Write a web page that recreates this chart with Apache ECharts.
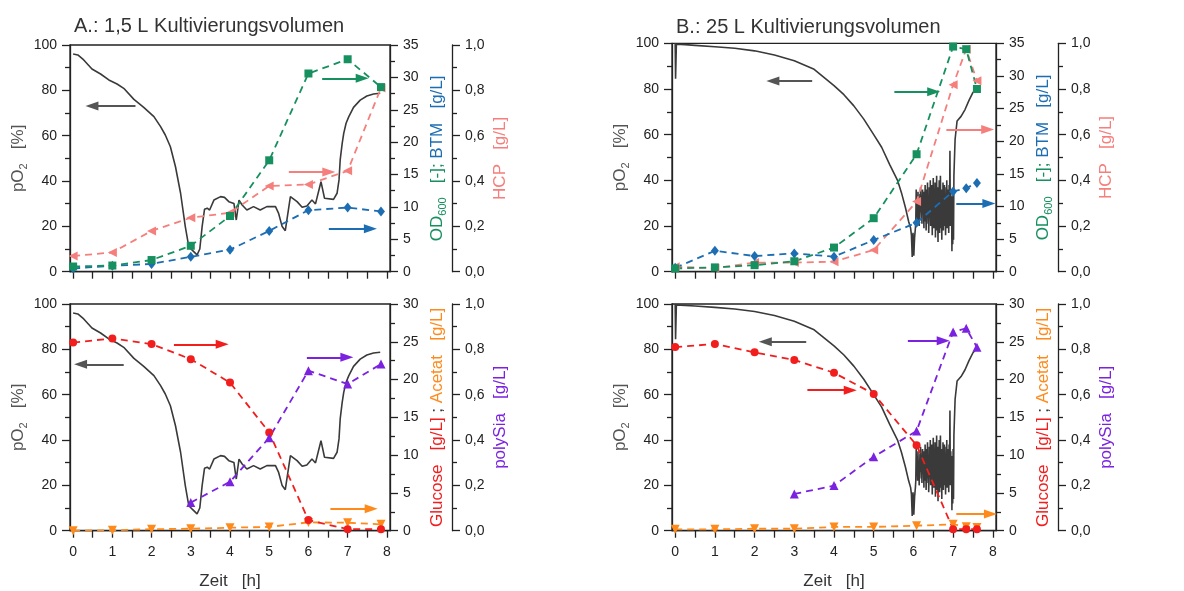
<!DOCTYPE html>
<html>
<head>
<meta charset="utf-8">
<script src="https://cdn.jsdelivr.net/npm/echarts@6/dist/echarts.min.js"></script>
<style>
  html, body { margin: 0; padding: 0; background: #fff; }
  #chart { width: 1184px; height: 591px; }
</style>
</head>
<body>
<div id="chart"></div>
<script>
// ---- Panel A: 1,5 L cultivation ----
const sampleTimeA = [0, 1, 2, 3, 4, 5, 6, 7, 7.85];
const od600A   = [0.8, 0.95, 1.8, 4.0, 8.6, 17.2, 30.6, 32.8, 28.5];
const btmA     = [0.5, 0.9, 1.2, 2.3, 3.4, 6.3, 9.5, 9.9, 9.3];
const hcpA     = [0.069, 0.085, 0.18, 0.238, 0.26, 0.378, 0.385, 0.445, 0.81];
const glucoseA = [24.9, 25.45, 24.7, 22.7, 19.6, 13.0, 1.4, 0.2, 0.2];
const acetatA  = [0, 0.05, 0.2, 0.26, 0.4, 0.5, 1.1, 1.06, 0.84];
const polySiaTimeA = [3, 4, 5, 6, 7, 7.85];
const polySiaA     = [0.124, 0.216, 0.41, 0.706, 0.647, 0.735];

const pO2TimeA = [0, 0.12, 0.27, 0.48, 0.7, 0.91, 1.12, 1.29, 1.55, 1.8, 2.06, 2.23, 2.35, 2.48, 2.61,
  2.74, 2.86, 2.95, 3.03, 3.08, 3.16, 3.23, 3.29, 3.35, 3.42, 3.48, 3.59, 3.76, 3.86, 3.97, 4.1, 4.16,
  4.23, 4.31, 4.43, 4.6, 4.77, 4.94, 5.16, 5.24, 5.33, 5.41, 5.54, 5.71, 5.84, 5.96, 6.09, 6.18, 6.32,
  6.41, 6.64, 6.73, 6.78, 6.81, 6.86, 6.9, 6.96, 7.03, 7.15, 7.32, 7.49, 7.66, 7.83];
const pO2A = [96, 95.6, 93.4, 89.4, 87.2, 84.6, 82.8, 80.9, 76, 72.5, 68.4, 64, 60.3, 55.1, 46.3,
  34.6, 19.9, 11, 9.6, 10.3, 7.4, 10, 20, 27.5, 28, 27.2, 31.6, 33.1, 32.8, 30.9, 30.1, 22.8,
  31.6, 29.4, 27.2, 28.7, 27.2, 28.7, 28.7, 25.7, 19.9, 18.1, 33.1, 30.9, 28.4, 29, 31.6, 29.9, 39.7,
  32.4, 31.9, 34.6, 40.5, 49.3, 56.5, 61, 65.5, 68.4, 72.5, 75.7, 77.5, 78.4, 78.7];

// ---- Panel B: 25 L cultivation ----
const sampleTimeB = [0, 1, 2, 3, 4, 5, 6.08, 7, 7.33, 7.6];
const od600B   = [0.5, 0.66, 1.0, 1.6, 3.7, 8.2, 18.0, 34.5, 34.1, 28.0];
const btmB     = [0.6, 3.2, 2.4, 2.8, 2.3, 4.85, 7.5, 12.3, 12.8, 13.6];
const hcpB     = [0.022, 0.015, 0.04, 0.04, 0.044, 0.095, 0.307, 0.818, 0.974, 0.836];
const glucoseB = [24.3, 24.7, 23.6, 22.6, 20.9, 18.1, 11.3, 0.2, 0.2, 0.2];
const acetatB  = [0.18, 0.18, 0.26, 0.26, 0.5, 0.5, 0.66, 0.84, 0.53, 0.44];
const polySiaTimeB = [3, 4, 5, 6.08, 7, 7.33, 7.6];
const polySiaB     = [0.162, 0.199, 0.326, 0.44, 0.877, 0.893, 0.809];

const pO2TimeB = [0, 0.01, 0.03, 0.25, 0.5, 1, 1.5, 2, 2.5, 3, 3.5, 4, 4.25, 4.5, 4.75, 5, 5.2, 5.4,
  5.6, 5.7, 5.8, 5.88, 5.93, 5.95, 5.97, 5.99, 6.01, 6.03, 6.05, 6.06,
  6.07, 6.075, 6.085, 6.09, 6.10, 6.105, 6.115, 6.12, 6.13, 6.14, 6.145, 6.155, 6.165, 6.17, 6.18, 6.19,
  6.20, 6.205, 6.215, 6.22, 6.23, 6.24, 6.245, 6.255, 6.265, 6.27, 6.28, 6.29, 6.295, 6.305, 6.31, 6.32,
  6.33, 6.335, 6.345, 6.355, 6.36, 6.37, 6.38, 6.385, 6.395, 6.40, 6.41, 6.42, 6.425, 6.435, 6.44, 6.45,
  6.46, 6.465, 6.475, 6.48, 6.49, 6.50, 6.505, 6.515, 6.52, 6.53, 6.54, 6.545, 6.555, 6.56, 6.57, 6.58,
  6.585, 6.595, 6.60, 6.61, 6.62, 6.625, 6.635, 6.64, 6.65, 6.66, 6.665, 6.675, 6.68, 6.69, 6.70, 6.705,
  6.715, 6.72, 6.73, 6.74, 6.745, 6.755, 6.76, 6.77, 6.78, 6.785, 6.795, 6.80, 6.81, 6.82, 6.825, 6.835,
  6.84, 6.85, 6.86, 6.865, 6.875, 6.88, 6.89, 6.90, 6.91, 6.92, 6.93, 6.94, 6.95, 6.96, 6.97, 6.98, 6.99,
  7.00, 7.01, 7.02, 7.05, 7.1, 7.2, 7.3, 7.4, 7.5, 7.6];
const pO2B = [100, 84.5, 99.6, 99.4, 99.1, 98.5, 97.8, 96.7, 94.9, 92.4, 88.6, 81.5, 77.5, 72.6, 66.8,
  60, 54.5, 47, 40, 34.5, 28, 22, 19, 16, 6.5, 17, 7, 15, 19, 22,
  36, 28, 24, 33, 29, 22, 35, 30, 25, 31, 20, 27, 34, 26, 37, 31,
  23, 32, 21, 28, 36, 27, 33, 29, 19, 35, 24, 30, 38, 22, 31, 18,
  27, 36, 25, 39, 29, 21, 33, 17, 26, 37, 30, 26, 40, 20, 34, 23,
  38, 29, 16, 35, 27, 41, 33, 19, 33, 22, 28, 39, 15, 36, 24, 31,
  42, 18, 31, 25, 13, 37, 21, 30, 40, 17, 34, 25, 42, 28, 19, 36,
  14, 33, 23, 29, 39, 18, 35, 26, 38, 31, 20, 34, 16, 28, 37, 24,
  40, 19, 32, 27, 22, 36, 17, 38, 25, 53, 20, 35, 24, 33, 9, 28, 12, 36, 14, 42,
  58, 66, 68, 71, 75, 78.5, 80.5, 82, 83, 83.4];

// ---- axis ticks ----
const hourTicks = [0, 0.5, 1, 1.5, 2, 2.5, 3, 3.5, 4, 4.5, 5, 5.5, 6, 6.5, 7, 7.5, 8];
const hourLabels = [0, 1, 2, 3, 4, 5, 6, 7, 8];

// ---- colours ----
const C = {
  pO2: '#3a3a3a', arrowGrey: '#555555', od: '#17905f', btm: '#1d6db3', hcp: '#f57f7c',
  glc: '#f21d1d', ace: '#ff8a1c', psa: '#7a22e0', axis: '#222222', text: '#222222'
};
const FONT = '"Liberation Sans", Arial, Helvetica, sans-serif';

function pairs(xs, ys) { return xs.map((x, i) => [x, ys[i]]); }
const comma = v => v.toFixed(1).replace('.', ',');

const grids = [
  { left: 70, top: 45, width: 320, height: 226.7 },
  { left: 672, top: 43.3, width: 324, height: 228.4 },
  { left: 70, top: 304, width: 320, height: 226.7 },
  { left: 672, top: 304, width: 324, height: 226.7 }
].map(g => Object.assign(g, { show: true, borderColor: C.axis, borderWidth: 1.3, backgroundColor: 'transparent', containLabel: false }));

function xAx(gi, withLabels) {
  return {
    type: 'value', gridIndex: gi, min: -0.08, max: 8.08,
    axisLine: { onZero: false, lineStyle: { color: C.axis, width: 1.3 } },
    axisTick: { customValues: hourTicks, length: 7, lineStyle: { color: C.axis, width: 1.3 } },
    axisLabel: { show: withLabels, customValues: hourLabels, margin: 14, fontSize: 14, color: C.text, fontFamily: FONT },
    splitLine: { show: false },
    name: withLabels ? 'Zeit   [h]' : '', nameLocation: 'middle', nameGap: 42,
    nameTextStyle: { fontSize: 17, color: '#333', fontFamily: FONT }
  };
}

function yAx(gi, pos, offset, max, interval, name, rich, nameGap, fmt) {
  return {
    type: 'value', gridIndex: gi, position: pos, offset: offset, min: 0, max: max, interval: interval,
    axisLine: { show: true, onZero: false, lineStyle: { color: C.axis, width: 1.3 } },
    axisTick: { show: true, length: 8, lineStyle: { color: C.axis, width: 1.3 } },
    minorTick: { show: true, splitNumber: 2, length: 5, lineStyle: { color: C.axis, width: 1.3 } },
    axisLabel: { margin: 13, fontSize: 14, color: C.text, fontFamily: FONT, formatter: fmt },
    splitLine: { show: false },
    name: name, nameLocation: 'middle', nameRotate: 90, nameGap: nameGap,
    nameTextStyle: { fontFamily: FONT, fontSize: 17, rich: rich }
  };
}

function sub(color) { return { fontSize: 11, color: color, fontFamily: FONT, lineHeight: 22, verticalAlign: 'bottom' }; }
function txt(color) { return { fontSize: 17, color: color, fontFamily: FONT, lineHeight: 22 }; }

const pO2Name = '{a|pO}{s|2}{a|   [%]}';
const pO2Rich = { a: txt('#555'), s: sub('#555') };
const intFmt = v => String(Math.round(v));

const yAxes = [];
[0, 1, 2, 3].forEach(gi => {
  const top = gi < 2;
  yAxes.push(yAx(gi, 'left', 0, 100, 20, pO2Name, pO2Rich, 40, intFmt));
  if (top) {
    yAxes.push(yAx(gi, 'right', 0, 35, 5, '{g|OD}{gs|600}{g|   [-]; }{b|BTM   [g/L]}',
      { g: txt(C.od), gs: sub(C.od), b: txt(C.btm) }, 36, intFmt));
    yAxes.push(yAx(gi, 'right', 62, 1, 0.2, '{p|HCP   [g/L]}', { p: txt(C.hcp) }, 37, comma));
  } else {
    yAxes.push(yAx(gi, 'right', 0, 30, 5, '{r|Glucose   [g/L]}{k| ; }{o|Acetat   [g/L]}',
      { r: txt(C.glc), k: txt('#333'), o: txt(C.ace) }, 36, intFmt));
    yAxes.push(yAx(gi, 'right', 62, 1, 0.2, '{v|polySia   [g/L]}', { v: txt(C.psa) }, 37, comma));
  }
});

// annotation arrows, in pO2 axis coordinates of each panel
function arrow(x1, x2, y, color) {
  return [
    { coord: [x1, y], symbol: 'none', lineStyle: { color: color }, itemStyle: { color: color } },
    { coord: [x2, y], symbol: 'triangle', symbolSize: [9, 13], itemStyle: { color: color } }
  ];
}
const arrowsByGrid = [
  [arrow(1.59, 0.48, 73.1, C.arrowGrey), arrow(6.35, 7.37, 85.3, C.od), arrow(5.5, 6.52, 44, C.hcp), arrow(6.52, 7.58, 19, C.btm)],
  [arrow(3.45, 2.46, 83.5, C.arrowGrey), arrow(5.52, 6.51, 78.8, C.od), arrow(6.83, 7.87, 62.3, C.hcp), arrow(7.08, 7.9, 29.9, C.btm)],
  [arrow(1.29, 0.19, 73.4, C.arrowGrey), arrow(2.57, 3.8, 82.2, C.glc), arrow(5.96, 6.98, 76.5, C.psa), arrow(6.56, 7.6, 9.7, C.ace)],
  [arrow(3.3, 2.27, 83.4, C.arrowGrey), arrow(3.33, 4.41, 62, C.glc), arrow(5.86, 6.75, 83.8, C.psa), arrow(7.08, 7.94, 7.35, C.ace)]
];

function pO2Series(gi, times, vals) {
  return {
    type: 'line', xAxisIndex: gi, yAxisIndex: gi * 3, data: pairs(times, vals),
    showSymbol: false, symbol: 'none', lineStyle: { color: C.pO2, width: 1.6 }, z: 2,
    markLine: {
      silent: true, symbol: ['none', 'triangle'], symbolSize: 12, label: { show: false },
      lineStyle: { type: 'solid', width: 2 }, data: arrowsByGrid[gi]
    }
  };
}

function dashed(gi, axisOffset, times, vals, color, symbol, size, rotate) {
  return {
    type: 'line', xAxisIndex: gi, yAxisIndex: gi * 3 + axisOffset, data: pairs(times, vals),
    symbol: symbol, symbolSize: size, symbolRotate: rotate || 0, showSymbol: true,
    itemStyle: { color: color }, lineStyle: { color: color, width: 1.8, type: [7, 5] }, z: 3
  };
}

const series = [
  pO2Series(0, pO2TimeA, pO2A),
  dashed(0, 2, sampleTimeA, hcpA, C.hcp, 'triangle', 9, 90),
  dashed(0, 1, sampleTimeA, btmA, C.btm, 'diamond', [8, 10]),
  dashed(0, 1, sampleTimeA, od600A, C.od, 'rect', 8),

  pO2Series(1, pO2TimeB, pO2B),
  dashed(1, 2, sampleTimeB, hcpB, C.hcp, 'triangle', 9, 90),
  dashed(1, 1, sampleTimeB, btmB, C.btm, 'diamond', [8, 10]),
  dashed(1, 1, sampleTimeB, od600B, C.od, 'rect', 8),

  pO2Series(2, pO2TimeA, pO2A),
  dashed(2, 1, sampleTimeA, acetatA, C.ace, 'triangle', 9, 180),
  dashed(2, 1, sampleTimeA, glucoseA, C.glc, 'circle', 8),
  dashed(2, 2, polySiaTimeA, polySiaA, C.psa, 'triangle', 9),

  pO2Series(3, pO2TimeB, pO2B),
  dashed(3, 1, sampleTimeB, acetatB, C.ace, 'triangle', 9, 180),
  dashed(3, 1, sampleTimeB, glucoseB, C.glc, 'circle', 8),
  dashed(3, 2, polySiaTimeB, polySiaB, C.psa, 'triangle', 9)
];

const option = {
  animation: false,
  backgroundColor: '#ffffff',
  textStyle: { fontFamily: FONT },
  title: [
    { text: 'A.: 1,5 L Kultivierungsvolumen', left: 69, top: 11, textStyle: { fontSize: 20, fontWeight: 'normal', color: '#333', fontFamily: FONT } },
    { text: 'B.: 25 L Kultivierungsvolumen', left: 671, top: 12, textStyle: { fontSize: 20, fontWeight: 'normal', color: '#333', fontFamily: FONT } }
  ],
  grid: grids,
  xAxis: [xAx(0, false), xAx(1, false), xAx(2, true), xAx(3, true)],
  yAxis: yAxes,
  series: series
};

const chart = echarts.init(document.getElementById('chart'), null, { renderer: 'canvas' });
chart.setOption(option);
</script>
</body>
</html>
